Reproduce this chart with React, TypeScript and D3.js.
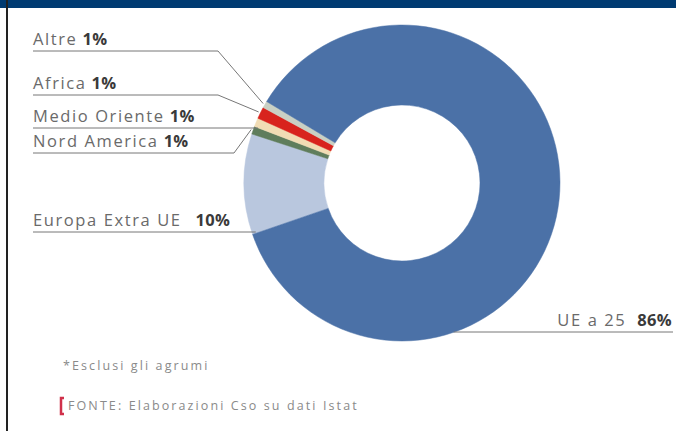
import React from "react";
import * as d3 from "d3";

const categories = ["Europa Extra UE", "Nord America", "Medio Oriente", "Africa", "Altre", "UE a 25"];
const values = [10.3, 0.8, 0.9, 1.2, 0.7, 86.1];
const pctLabels = ["10%", "1%", "1%", "1%", "1%", "86%"];
const colors = ["#b9c7de", "#5f7d5c", "#f1dcb4", "#d8231d", "#c9d0c4", "#4b71a7"];
const footNote = "*Esclusi gli agrumi";
const source = "FONTE: Elaborazioni Cso su dati Istat";

const W = 676, H = 431;
const cx = 402, cy = 183, rOuter = 158, rInner = 78;
const start = (251 * Math.PI) / 180;

// label positions (layout)
const labelLayout: Record<string, { y: number; elbowX?: number; right?: boolean; gap?: number }> = {
  "Altre": { y: 51, elbowX: 218 },
  "Africa": { y: 95, elbowX: 218 },
  "Medio Oriente": { y: 128 },
  "Nord America": { y: 153, elbowX: 234 },
  "Europa Extra UE": { y: 232, gap: 14 },
  "UE a 25": { y: 332, right: true, gap: 11 },
};

export default function App() {
  const data = categories.map((c, i) => ({ c, v: values[i], p: pctLabels[i], col: colors[i] }));
  const pie = d3.pie<any>().sort(null).value((d) => d.v).startAngle(start).endAngle(start + 2 * Math.PI);
  const arcs = pie(data);
  const arc = d3.arc<any>().innerRadius(rInner).outerRadius(rOuter);
  const pt = (a: number, r: number) => [cx + r * Math.sin(a), cy - r * Math.cos(a)];
  const font = "'Open Sans', 'DejaVu Sans', sans-serif";

  return (
    <svg width={W} height={H} style={{ position: "absolute", left: 0, top: 0, background: "#fff" }}>
      <rect x={0} y={0} width={W} height={H} fill="#fff" />
      <rect x={0} y={0} width={W} height={8} fill="#003b72" />
      <rect x={6} y={0} width={2} height={H} fill="#222" />
      <g transform={`translate(${cx},${cy})`}>
        {arcs.map((a, i) => (
          <path key={i} d={arc(a) as string} fill={a.data.col} stroke={a.data.col} strokeWidth={0.5} />
        ))}
      </g>
      {arcs.map((a, i) => {
        const L = labelLayout[a.data.c];
        const mid = (a.startAngle + a.endAngle) / 2;
        let pts: number[][];
        if (L.right) {
          const dy = L.y - cy;
          const x0 = cx + Math.sqrt(rOuter * rOuter - dy * dy) - 1;
          pts = [[x0, L.y], [673, L.y]];
        } else if (L.elbowX === undefined) {
          const dy = L.y - cy;
          const x1 = cx - Math.sqrt(rOuter * rOuter - dy * dy) + 4;
          pts = [[33, L.y], [x1, L.y]];
        } else {
          const e = pt(mid, rOuter + 2);
          pts = [[33, L.y], [L.elbowX, L.y], e];
        }
        const line = d3.line();
        const tx = L.right ? 672 : 33;
        return (
          <g key={"l" + i}>
            <path d={line(pts as any) as string} fill="none" stroke="#777" strokeWidth={1} />
            <text x={tx} y={L.y - 6} fontFamily={font} fontSize={16.5} letterSpacing={1.6} fill="#6a6a6a" textAnchor={L.right ? "end" : "start"}>
              {a.data.c}
              <tspan dx={L.gap ?? 5} fontWeight={700} letterSpacing={0.3} fill="#3a3a3a">{a.data.p}</tspan>
            </text>
          </g>
        );
      })}
      <text x={63} y={370} fontFamily={font} fontSize={12.5} letterSpacing={2.1} fill="#8a8a8a">{footNote}</text>
      <path d="M64,398 L61,398 L61,414 L64,414" fill="none" stroke="#d0304a" strokeWidth={2.5} />
      <text x={68} y={410} fontFamily={font} fontSize={12.5} letterSpacing={2.1} fill="#8a8a8a">{source}</text>
    </svg>
  );
}
